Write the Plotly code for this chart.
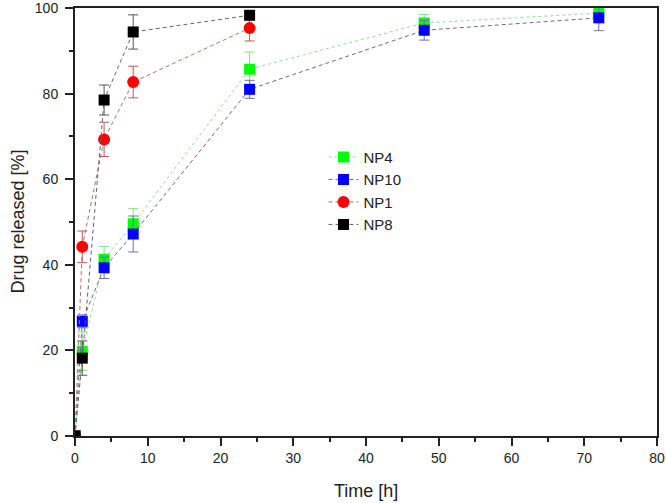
import plotly.graph_objects as go

time_h = [0, 1, 4, 8, 24, 48, 72]
time_short = [0, 1, 4, 8, 24]

np4 = [0, 19.8, 41.3, 49.6, 85.7, 96.5, 98.8]
np4_err = [0, 4.5, 3.0, 3.5, 4.0, 2.0, 1.0]

np10 = [0, 26.8, 39.3, 47.2, 81.0, 94.8, 97.7]
np10_err = [0, 1.5, 2.5, 4.2, 2.1, 2.3, 3.0]

np1 = [0, 44.2, 69.3, 82.7, 95.3]
np1_err = [0, 3.7, 4.0, 3.7, 3.0]

np8 = [0, 18.2, 78.5, 94.4, 98.3]
np8_err = [0, 4.0, 3.5, 4.0, 1.0]

series = [
    ("NP4", time_h, np4, np4_err, "#00ff00", "#8ee08e", "#80e080", "square", 11, "3px,3px"),
    ("NP10", time_h, np10, np10_err, "#0000ff", "#6a6a8e", "#7070a8", "square", 11, "4px,3px"),
    ("NP1", time_short, np1, np1_err, "#ff0000", "#b07070", "#b85a5a", "circle", 12, "4px,3px"),
    ("NP8", time_short, np8, np8_err, "#000000", "#666666", "#555555", "square", 11, "4px,3px"),
]

fig = go.Figure()
for name, x, y, err, mcol, lcol, ecol, sym, size, dash in series:
    fig.add_trace(go.Scatter(
        x=x, y=y, name=name, mode="lines+markers",
        line=dict(color=lcol, width=1, dash=dash),
        marker=dict(color=mcol, symbol=sym, size=size, line=dict(width=0)),
        error_y=dict(type="data", array=err, visible=True, color=ecol, thickness=1, width=5),
    ))

fig.update_layout(
    width=666, height=503,
    margin=dict(l=75, r=9, t=8, b=67),
    paper_bgcolor="white", plot_bgcolor="white",
    font=dict(family="Liberation Sans, Arial, sans-serif", color="#222222"),
    showlegend=True,
    legend=dict(x=0.427, y=0.69, xanchor="left", yanchor="top",
                bgcolor="rgba(0,0,0,0)", font=dict(size=15), tracegroupgap=0,
                itemwidth=30),
    xaxis=dict(range=[0, 80], tickmode="linear", tick0=0, dtick=10,
               ticks="outside", ticklen=8, tickwidth=1.5, tickcolor="#222",
               minor=dict(ticks="outside", dtick=5, ticklen=4, tickcolor="#222", tickwidth=1.5),
               showline=True, linecolor="#222", linewidth=2, mirror=True,
               showgrid=False, zeroline=False, automargin=False,
               ticklabeloverflow="allow", tickfont=dict(size=14)),
    yaxis=dict(range=[0, 100], tickmode="linear", tick0=0, dtick=20,
               ticks="outside", ticklen=8, tickwidth=1.5, tickcolor="#222",
               minor=dict(ticks="outside", dtick=10, ticklen=4, tickcolor="#222", tickwidth=1.5),
               showline=True, linecolor="#222", linewidth=2, mirror=True,
               showgrid=False, zeroline=False, automargin=False,
               ticklabeloverflow="allow", ticklabelstandoff=4, tickfont=dict(size=14)),
    annotations=[
        dict(text="Time [h]", x=0.5, y=-0.1, xref="paper", yref="paper",
             xanchor="center", yanchor="top", showarrow=False, font=dict(size=18)),
        dict(text="Drug released [%]", x=-0.078, y=0.5, xref="paper", yref="paper",
             xanchor="right", yanchor="middle", textangle=-90, showarrow=False,
             font=dict(size=18)),
    ],
)

fig.write_html("out.html", config={"displayModeBar": False},
               post_script="document.body.style.margin='0';document.body.style.overflow='hidden';")
